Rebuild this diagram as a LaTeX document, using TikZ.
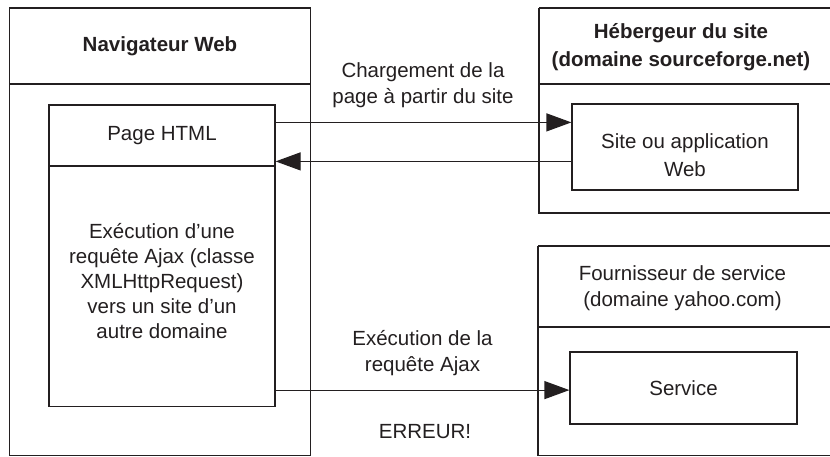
\documentclass[tikz,border=0pt]{standalone}
\usepackage{fontspec}
\setmainfont{Liberation Sans}
\usetikzlibrary{arrows.meta}
\definecolor{ink}{HTML}{231F20}
\tikzset{
  frame/.style={draw=ink, line width=1.4pt},
  box/.style={draw=ink, line width=1.2pt, rectangle, inner sep=0pt},
  txt/.style={text=ink, align=center, inner sep=0pt,
    font=\fontsize{20.5}{25.5}\selectfont},
  title/.style={txt, font=\fontsize{20.5}{28}\selectfont\bfseries},
  arr/.style={draw=ink, line width=1.2pt, -{Triangle[length=25pt,width=18pt]}},
}
\begin{document}
\begin{tikzpicture}[x=1pt,y=-1pt]
\useasboundingbox (0,0) rectangle (830,457);

% Browser frame
\draw[frame] (9.5,8) rectangle (310.5,455.5);
\draw[frame] (9.5,84) -- (310.5,84);
\node[title] (navtitle) at (160,46) {Navigateur Web};

% HTML page inside the browser
\node[box, minimum width=226pt, minimum height=301.5pt] (page) at (162,255.75) {};
\draw[ink, line width=1.2pt] (49,166) -- (275,166);
\node[txt] (pagetitle) at (162,136) {Page HTML};
\node[txt, font=\fontsize{20.5}{25}\selectfont] (ajaxtext) at (162,281)
  {Exécution d’une\\requête Ajax (classe\\XMLHttpRequest)\\vers un site d’un\\autre domaine};

% Hosting frame
\draw[frame] (539,8) -- (845,8);
\draw[frame] (539,8) -- (539,213) -- (845,213);
\draw[frame] (539,84) -- (845,84);
\node[title] (hosttitle) at (681,47) {Hébergeur du site\\(domaine sourceforge.net)};
\node[box, minimum width=226pt, minimum height=86pt] (site) at (685,147) {};
\node[txt, font=\fontsize{20.5}{28}\selectfont] (sitetext) at (685,155) {Site ou application\\Web};

% Service provider frame
\draw[frame] (538,246) -- (845,246);
\draw[frame] (538,246) -- (538,455.5) -- (845,455.5);
\draw[frame] (538,327) -- (845,327);
\node[txt, font=\fontsize{20.5}{26}\selectfont] (provtitle) at (682.5,288) {Fournisseur de service\\(domaine yahoo.com)};
\node[box, minimum width=227pt, minimum height=72pt] (service) at (683.5,388) {};
\node[txt] (servicetext) at (683.5,388) {Service};

% Connectors
\draw[arr] ([yshift=-18pt]page.north east) -- ([yshift=-18pt]page.north east -| site.west);
\draw[arr] ([yshift=-58pt]site.north west) -- ([yshift=-58pt]site.north west -| page.east);
\draw[arr] ([yshift=17pt]page.south east) -- ([yshift=17pt]page.south east -| service.west);

% Connector labels
\node[txt, font=\fontsize{20.5}{26}\selectfont] (loadlabel) at (423,85) {Chargement de la\\page à partir du site};
\node[txt, font=\fontsize{20.5}{26}\selectfont] (ajaxlabel) at (422.5,353) {Exécution de la\\requête Ajax};
\node[txt] (errlabel) at (425,432) {ERREUR!};
\end{tikzpicture}
\end{document}
